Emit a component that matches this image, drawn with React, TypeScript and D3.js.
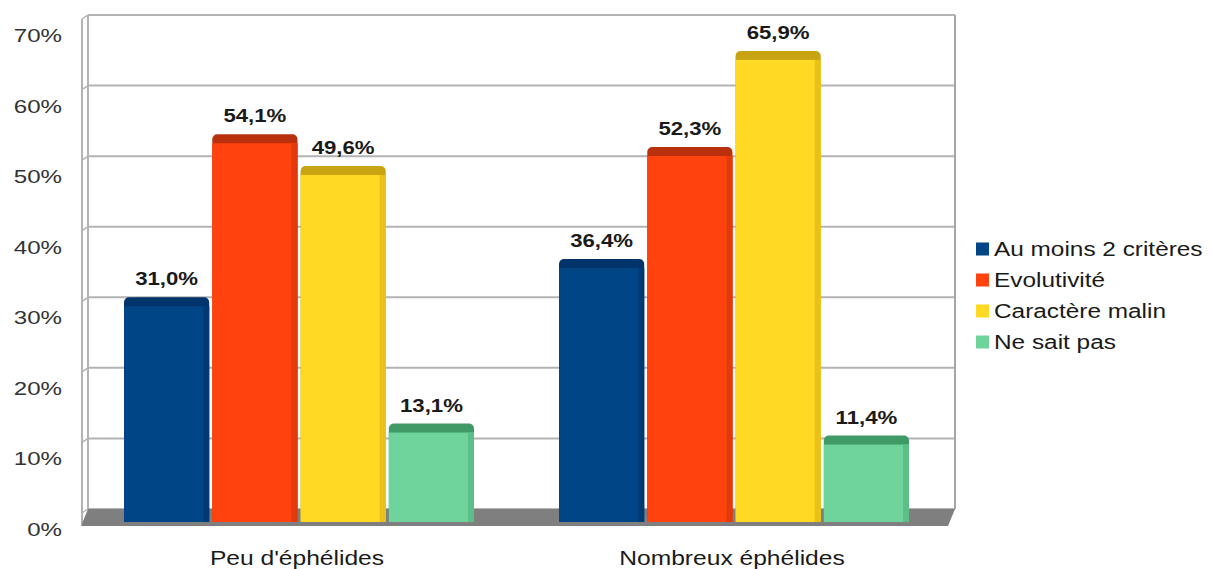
import React from "react";
import * as d3 from "d3";

const categories = ["Peu d'éphélides", "Nombreux éphélides"];
const seriesNames = ["Au moins 2 critères", "Evolutivité", "Caractère malin", "Ne sait pas"];
const seriesColors = ["#004586", "#ff420e", "#ffd923", "#6fd49c"];
const capColors = ["#00346a", "#b9300c", "#c9a412", "#3f9a66"];
const sideColors = ["#003a73", "#e23a0c", "#e8c21a", "#5cbf88"];
const values: number[][] = [
  [31.0, 54.1, 49.6, 13.1],
  [36.4, 52.3, 65.9, 11.4],
];
const yTicks = [0, 10, 20, 30, 40, 50, 60, 70];

const W = 1212, H = 569;
const depthX = 7, depthY = 17;
const backLeft = 88, backRight = 955;
const font = "'Liberation Sans', Arial, sans-serif";

function SText(props: {
  x: number; y: number; sx: number; size: number; anchor: string; bold?: boolean; fill?: string; children: React.ReactNode;
}) {
  const { x, y, sx, size, anchor, bold, fill, children } = props;
  return (
    <text
      transform={`translate(${x},${y}) scale(${sx},1)`}
      textAnchor={anchor}
      fontFamily={font}
      fontWeight={bold ? "bold" : "normal"}
      fontSize={size}
      fill={fill ?? "#1a1a1a"}
    >
      {children}
    </text>
  );
}

export default function App() {
  const yBack = d3.scaleLinear().domain([0, 70]).range([509, 15]);
  const yFront = d3.scaleLinear().domain([0, 70]).range([525, 31]);
  const xGroup = d3.scaleBand<string>().domain(categories).range([81.5, 951.5]).padding(0);
  const xInner = d3.scaleBand<string>().domain(seriesNames).range([-175, 175]).paddingInner(0.035);
  const fmt = (v: number) => v.toFixed(1).replace(".", ",") + "%";
  const capH = 9;

  return (
    <svg width={W} height={H} style={{ display: "block", position: "absolute", left: 0, top: 0 }}>
      <rect width={W} height={H} fill="#fff" />
      {/* back wall gridlines */}
      {yTicks.map((t) => (
        <line key={"g" + t} x1={backLeft} x2={backRight} y1={yBack(t)} y2={yBack(t)} stroke="#b3b3b3" strokeWidth={2} />
      ))}
      <line x1={backRight} x2={backRight} y1={yBack(70)} y2={yBack(0)} stroke="#a6a6a6" strokeWidth={2} />
      {/* left wall */}
      <line x1={backLeft} x2={backLeft} y1={yBack(70)} y2={yBack(0)} stroke="#b3b3b3" strokeWidth={2} />
      <line x1={backLeft - 6} x2={backLeft - 6} y1={yBack(70) + 4} y2={yBack(0) + depthY - 2} stroke="#b3b3b3" strokeWidth={2} />
      {yTicks.map((t) => (
        <line key={"w" + t} x1={backLeft - 6} x2={backLeft} y1={yBack(t) + 4} y2={yBack(t)} stroke="#b3b3b3" strokeWidth={1.5} />
      ))}
      {/* floor */}
      <polygon
        points={`${backLeft},${yBack(0)} ${backRight},${yBack(0)} ${backRight - depthX},${yBack(0) + depthY} ${backLeft - depthX},${yBack(0) + depthY}`}
        fill="#7f7f7f"
      />
      {/* bars */}
      {categories.map((c, gi) => {
        const cx = (xGroup(c) ?? 0) + xGroup.bandwidth() / 2;
        return seriesNames.map((s, si) => {
          const v = values[gi][si];
          const x = cx + (xInner(s) ?? 0);
          const bw = xInner.bandwidth();
          const top = yFront(v);
          const bottom = yFront(0) - 3;
          return (
            <g key={c + s}>
              <rect x={x} y={top - capH} width={bw} height={bottom - top + capH} rx={5} ry={5} fill={capColors[si]} />
              <rect x={x} y={top} width={bw} height={bottom - top} fill={seriesColors[si]} />
              <rect x={x + bw - 6} y={top} width={6} height={bottom - top} fill={sideColors[si]} />
              <SText x={x + bw / 2} y={top - capH - 12} sx={1.2} size={18.5} anchor="middle" bold>
                {fmt(v)}
              </SText>
            </g>
          );
        });
      })}
      {/* y axis labels */}
      {yTicks.map((t) => (
        <SText key={"y" + t} x={62} y={yFront(t) + 11} sx={1.27} size={19} anchor="end" fill="#333">
          {t + "%"}
        </SText>
      ))}
      {/* category labels */}
      {categories.map((c) => (
        <SText key={"c" + c} x={(xGroup(c) ?? 0) + xGroup.bandwidth() / 2 - 2} y={565} sx={1.2} size={20.5} anchor="middle">
          {c}
        </SText>
      ))}
      {/* legend */}
      {seriesNames.map((s, i) => (
        <g key={"l" + s}>
          <rect x={976} y={249 + i * 31 - 6.5} width={13} height={13} fill={seriesColors[i]} />
          <SText x={994} y={249 + i * 31 + 7} sx={1.25} size={19.5} anchor="start">
            {s}
          </SText>
        </g>
      ))}
    </svg>
  );
}
